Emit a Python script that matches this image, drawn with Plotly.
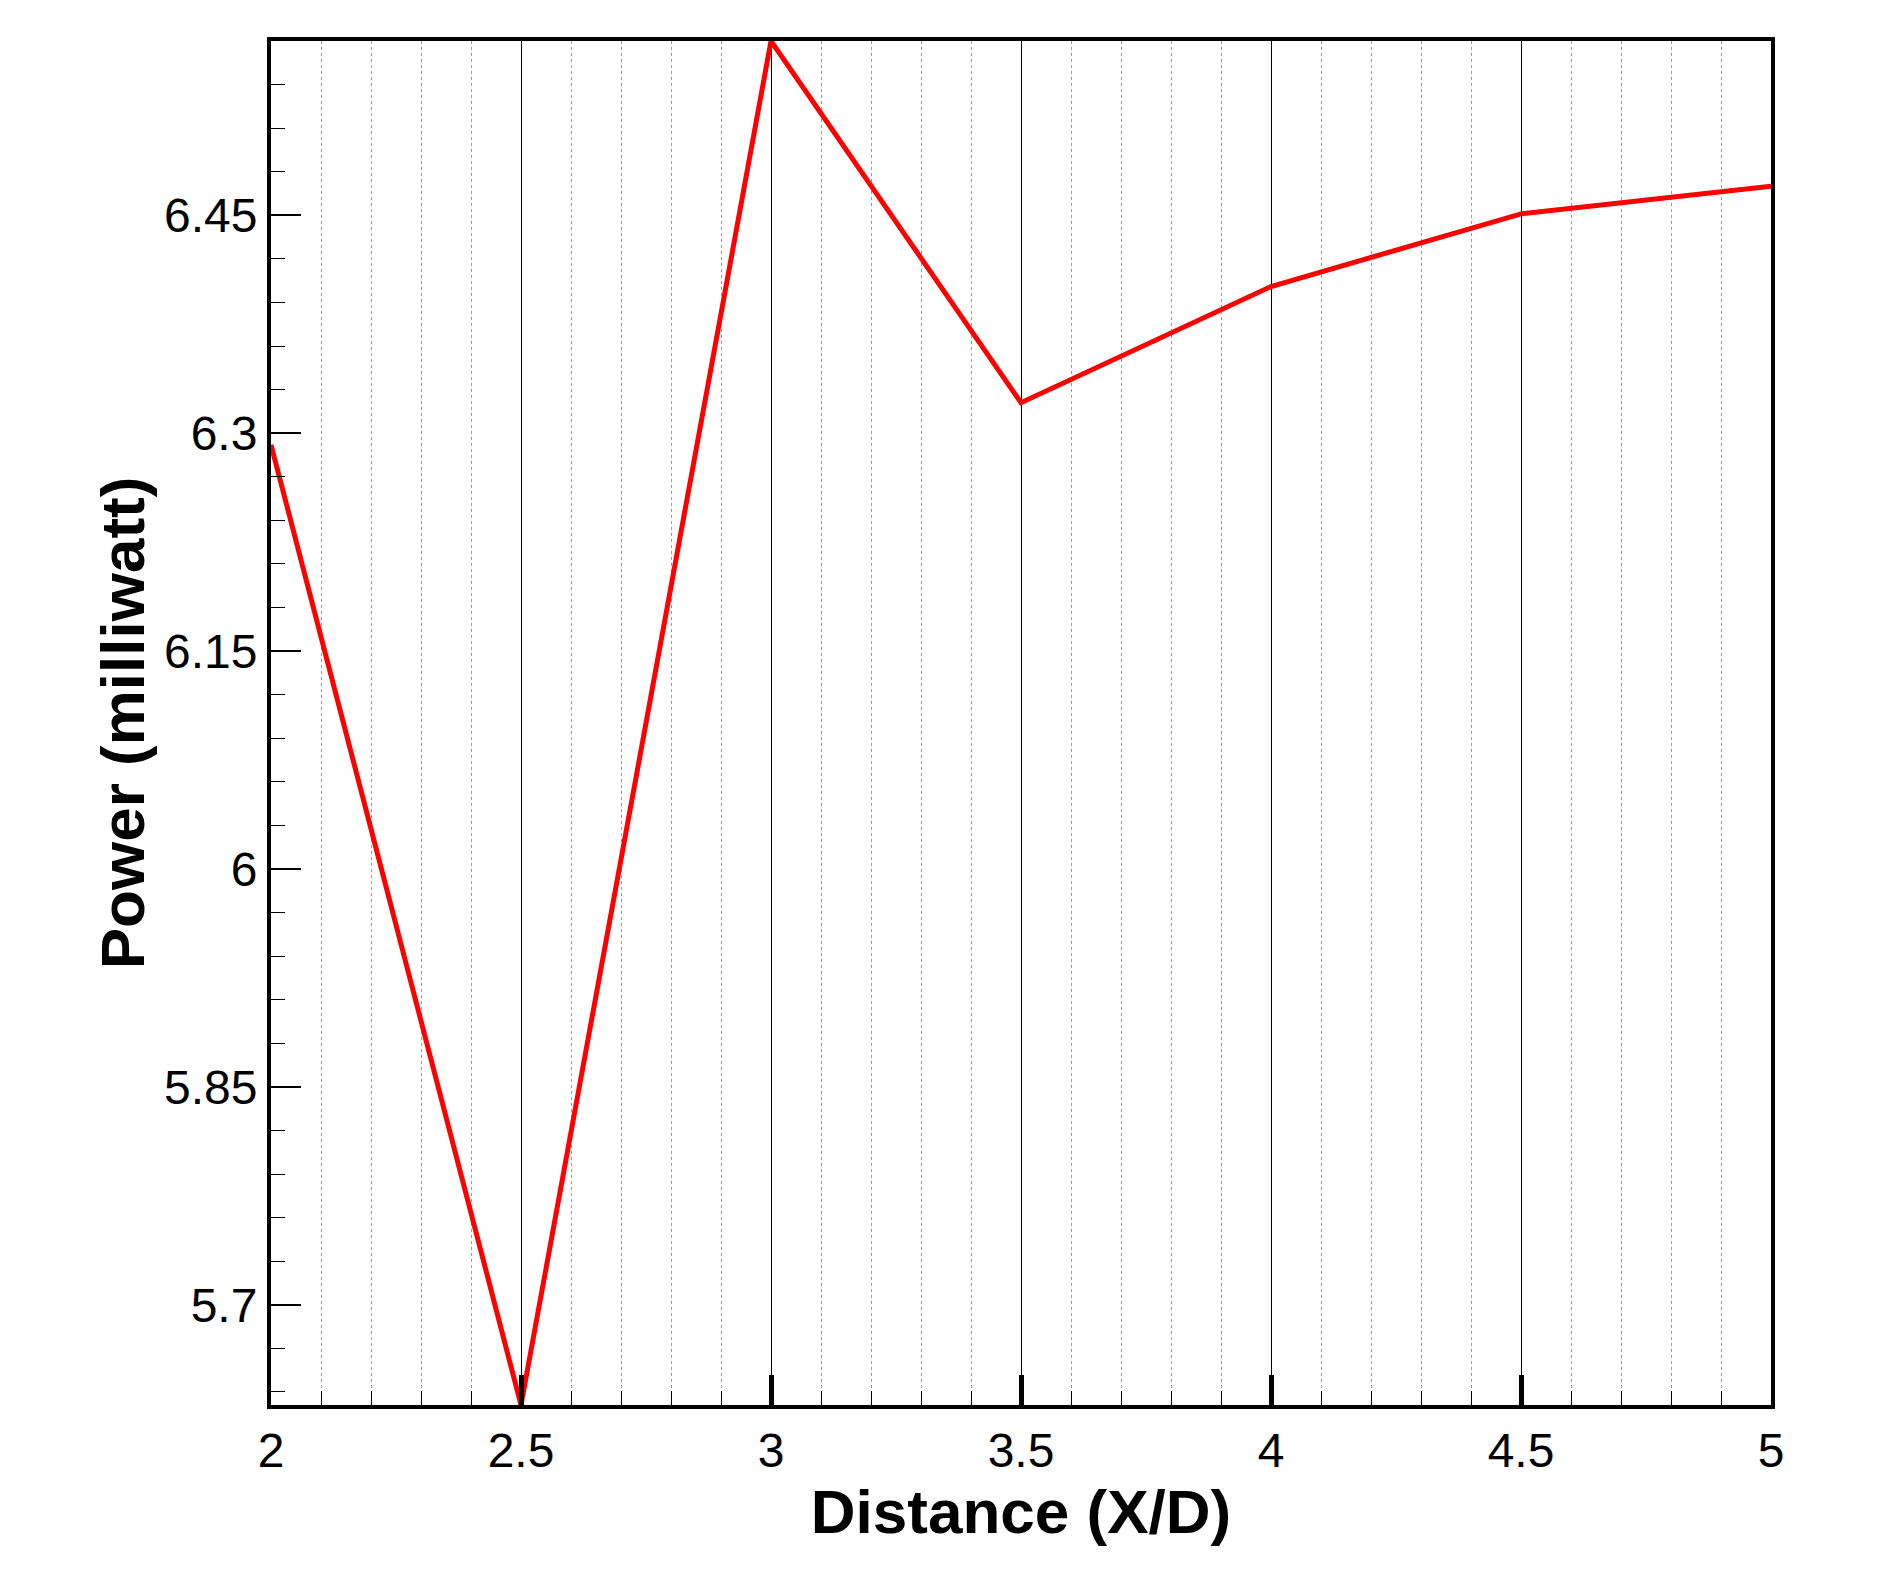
import plotly.graph_objects as go

# Values
distance = [2, 2.5, 3, 3.5, 4, 4.5, 5]
power = [6.292, 5.631, 6.57, 6.321, 6.401, 6.451, 6.47]

x_ticks = [2, 2.5, 3, 3.5, 4, 4.5, 5]
x_labels = ["2", "2.5", "3", "3.5", "4", "4.5", "5"]
y_ticks = [5.7, 5.85, 6, 6.15, 6.3, 6.45]
y_labels = ["5.7", "5.85", "6", "6.15", "6.3", "6.45"]

fig = go.Figure(go.Scatter(
    x=distance, y=power, mode='lines',
    line=dict(color='#ff0000', width=5),
    showlegend=False,
))

fig.update_layout(
    width=1877, height=1593,
    margin=dict(l=263, r=114, t=33, b=196),
    paper_bgcolor='white', plot_bgcolor='white',
    font=dict(family="Liberation Sans, Arial", size=48, color='black'),
)

fig.update_xaxes(
    range=[2, 5], tickvals=x_ticks, ticktext=x_labels,
    showgrid=True, gridcolor='black', gridwidth=1,
    ticks='inside', ticklen=30, tickwidth=5, tickcolor='black',
    minor=dict(dtick=0.1, tick0=2, showgrid=True, gridcolor='#999999',
               griddash='dot', gridwidth=1, ticks='inside', ticklen=14,
               tickcolor='black', tickwidth=1),
    showline=True, linecolor='black', linewidth=4, mirror=True,
    zeroline=False,
    title=dict(text="<b>Distance (X/D)</b>", font=dict(size=62), standoff=8),
)

fig.update_yaxes(
    range=[5.631, 6.57], tickvals=y_ticks, ticktext=y_labels,
    showgrid=False,
    ticks='inside', ticklen=30, tickwidth=2, tickcolor='black',
    minor=dict(dtick=0.03, tick0=5.7, ticks='inside', ticklen=14,
               tickcolor='black', tickwidth=1, showgrid=False),
    showline=True, linecolor='black', linewidth=4, mirror=True,
    zeroline=False,
    title=dict(text="<b>Power (milliwatt)</b>", font=dict(size=62), standoff=0),
)

fig.write_html("out.html")
